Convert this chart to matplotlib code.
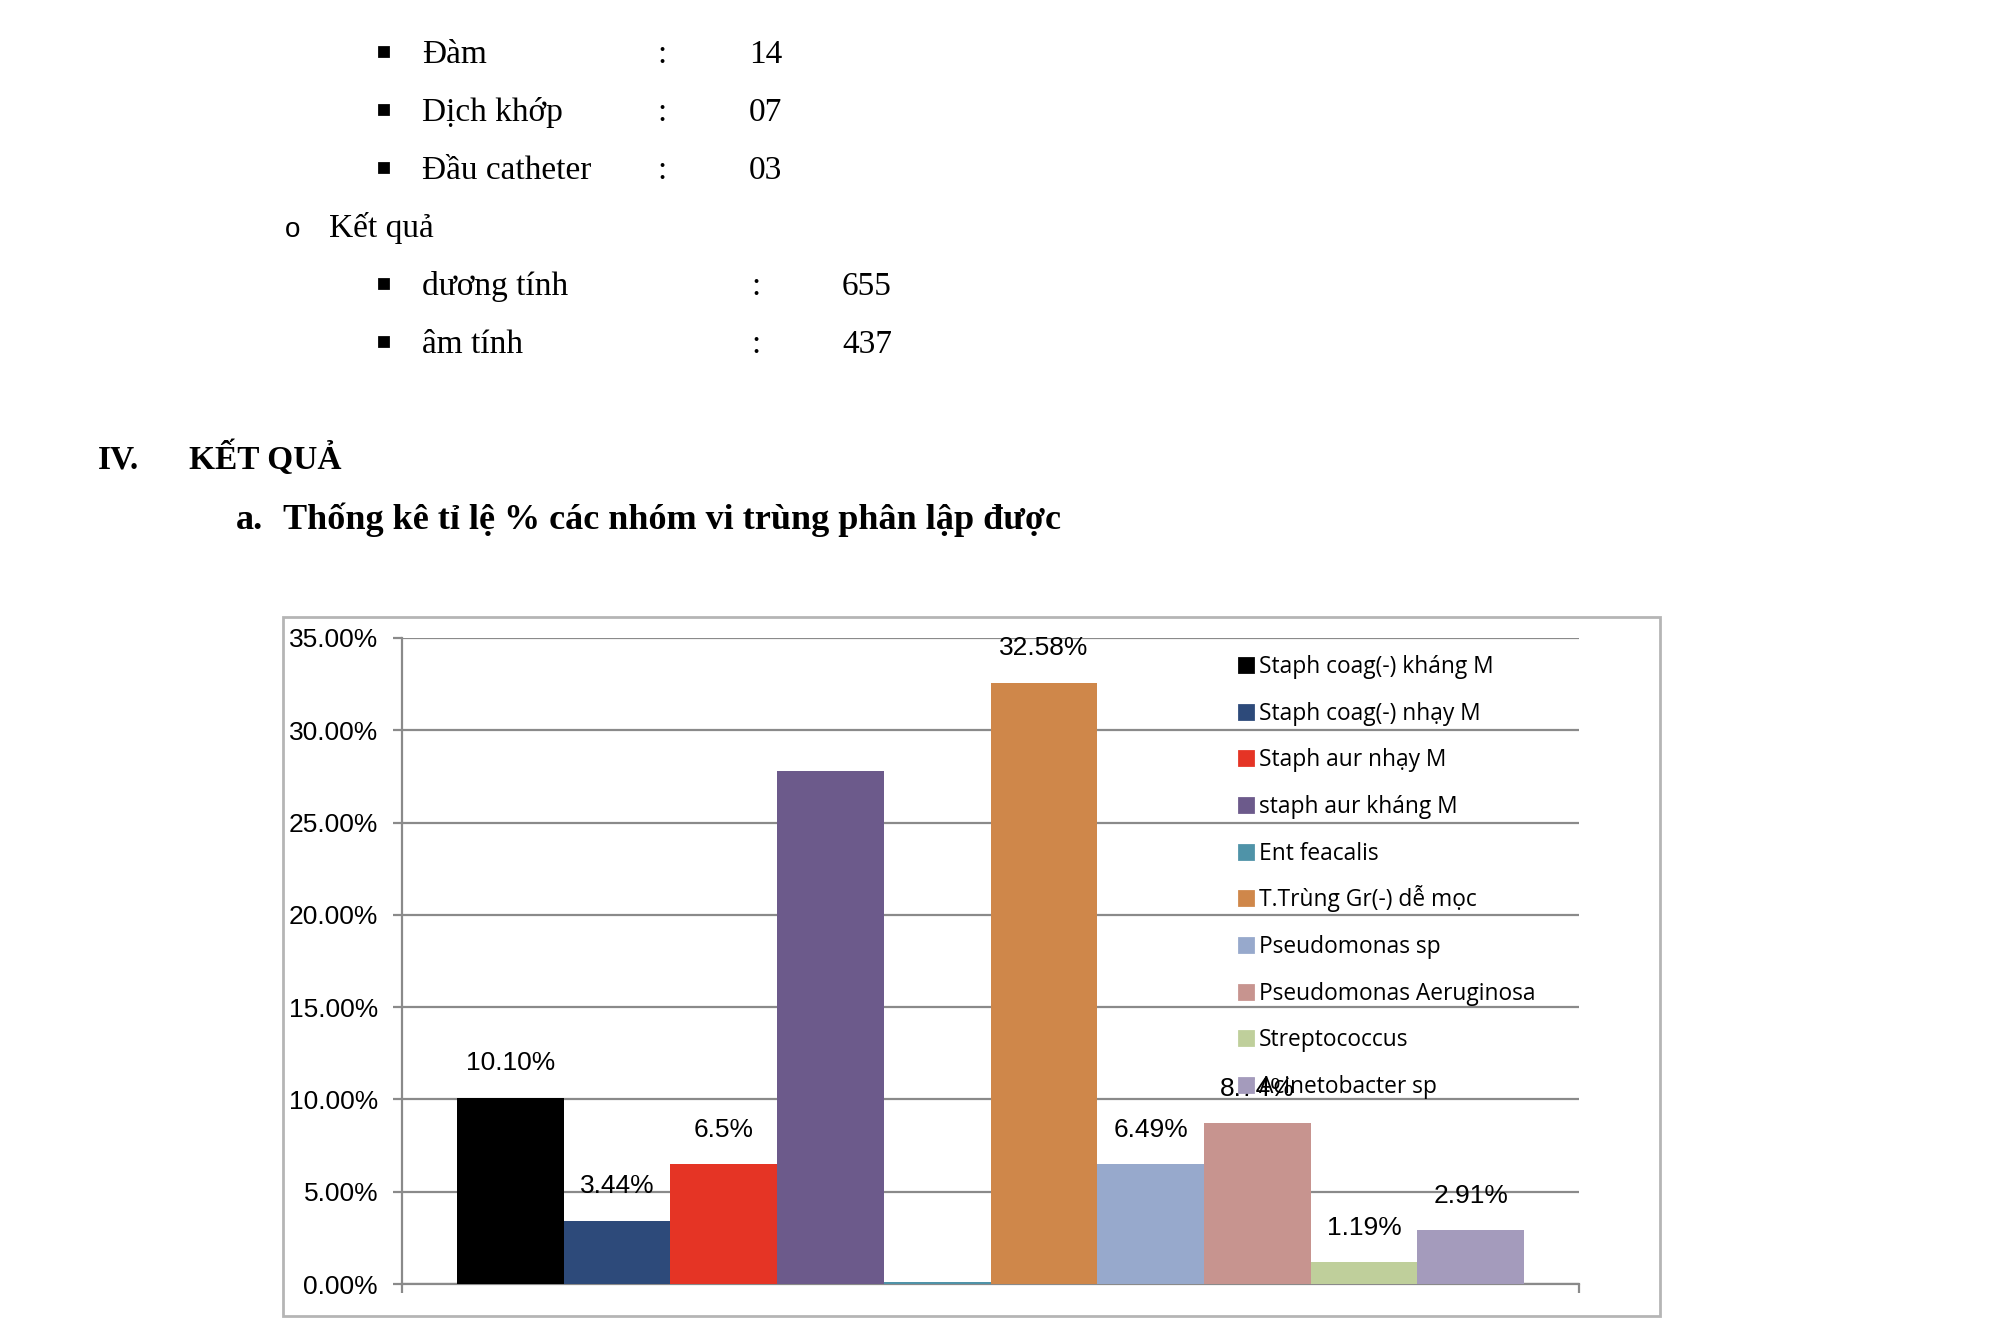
import matplotlib.pyplot as plt
from matplotlib.patches import Rectangle

# chart data (percent of isolates)
groups = ["Staph coag(-) kháng M", "Staph coag(-) nhạy M", "Staph aur nhạy M",
          "staph aur kháng M", "Ent feacalis", "T.Trùng Gr(-) dễ mọc",
          "Pseudomonas sp", "Pseudomonas Aeruginosa", "Streptococcus",
          "Acinetobacter sp"]
values = [10.10, 3.44, 6.5, 27.8, 0.12, 32.58, 6.49, 8.74, 1.19, 2.91]
labels = ["10.10%", "3.44%", "6.5%", "", "", "32.58%", "6.49%", "8.74%", "1.19%", "2.91%"]
colors = ["#000000", "#2d4a7a", "#e53425", "#6c5a8b", "#4f93a8",
          "#cf874a", "#97a9cc", "#c7948f", "#bfcf9b", "#a49bbc"]
yticks = [0, 5, 10, 15, 20, 25, 30, 35]

# document text above the chart
sample_rows = [("Đàm", "14"), ("Dịch khớp", "07"), ("Đầu catheter", "03")]
result_rows = [("dương tính", "655"), ("âm tính", "437")]

fig = plt.figure(figsize=(10, 6.665), dpi=200)
W, H = 2000, 1333


def fy(py):
    return 1 - py / H


serif = ["Liberation Serif", "DejaVu Serif"]
bsize = 12


def bullet_row(base, name, num, xcolon, xnum):
    fig.patches.append(Rectangle((379 / W, fy(base - 7)), 9 / W, 9 / H,
                                 transform=fig.transFigure, color="black"))
    fig.text(422 / W, fy(base), name, family=serif, fontsize=bsize, va="baseline")
    fig.text(xcolon / W, fy(base), ":", family=serif, fontsize=bsize, va="baseline")
    fig.text(xnum / W, fy(base), num, family=serif, fontsize=bsize, va="baseline")


for i, (name, num) in enumerate(sample_rows):
    bullet_row(63 + i * 58, name, num, 657, 749)

fig.text(285 / W, fy(237), "o", family="Liberation Sans", fontsize=10, va="baseline")
fig.text(329 / W, fy(237), "Kết quả", family=serif, fontsize=bsize, va="baseline")

for i, (name, num) in enumerate(result_rows):
    bullet_row(295 + i * 58, name, num, 751, 842)

fig.text(98 / W, fy(469), "IV.", family=serif, fontsize=bsize, weight="bold", va="baseline")
fig.text(189 / W, fy(469), "KẾT QUẢ", family=serif, fontsize=bsize, weight="bold", va="baseline")
fig.text(236 / W, fy(529), "a.", family=serif, fontsize=13, weight="bold", va="baseline")
fig.text(283 / W, fy(529), "Thống kê tỉ lệ % các nhóm vi trùng phân lập được",
         family=serif, fontsize=13, weight="bold", va="baseline")

# chart frame
fig.patches.append(Rectangle((283 / W, fy(1316)), (1660 - 283) / W, (1316 - 617) / H,
                             transform=fig.transFigure, fill=False,
                             edgecolor="#b5b5b5", linewidth=1.0))

ax = fig.add_axes([402 / W, fy(1284), (1579 - 402) / W, (1284 - 638) / H])
x = list(range(len(values)))
ax.bar(x, values, width=1.0, color=colors)

for xi, v, lab in zip(x, values, labels):
    if lab:
        ax.annotate(lab, (xi, v), xytext=(0, 12.3), textcoords="offset points",
                    ha="center", va="center", fontsize=9.5, family="Liberation Sans")

ax.set_ylim(0, 35)
ax.set_xlim(-1.014, 10.014)
ax.set_yticks(yticks)
ax.set_yticklabels([f"{t:.2f}%" for t in yticks], family="Liberation Sans", fontsize=9.5)
ax.set_xticks([-1.014, 10.014])
ax.set_xticklabels(["", ""])
ax.tick_params(axis="both", direction="out", length=3.2, width=0.8, color="#8a8a8a")
ax.tick_params(axis="y", pad=5.4)
ax.grid(axis="y", color="#8a8a8a", linewidth=0.8)
ax.set_axisbelow(True)
for s in ["top", "right"]:
    ax.spines[s].set_visible(False)
for s in ["left", "bottom"]:
    ax.spines[s].set_color("#8a8a8a")
    ax.spines[s].set_linewidth(0.8)
    ax.spines[s].set_zorder(0.5)

# legend, one row per group, evenly spaced as in the source chart
for i, (g, c) in enumerate(zip(groups, colors)):
    yc = 665 + i * 46.67
    fig.text(1259 / W, fy(yc + 8), g, family=["Open Sans", "DejaVu Sans"],
             fontsize=8.2, va="baseline", zorder=5)
    fig.patches.append(Rectangle((1239 / W, fy(yc + 7)), 14 / W, 14 / H,
                                 transform=fig.transFigure, color=c, zorder=6))

fig.savefig("out.png", dpi=200, facecolor="white")
